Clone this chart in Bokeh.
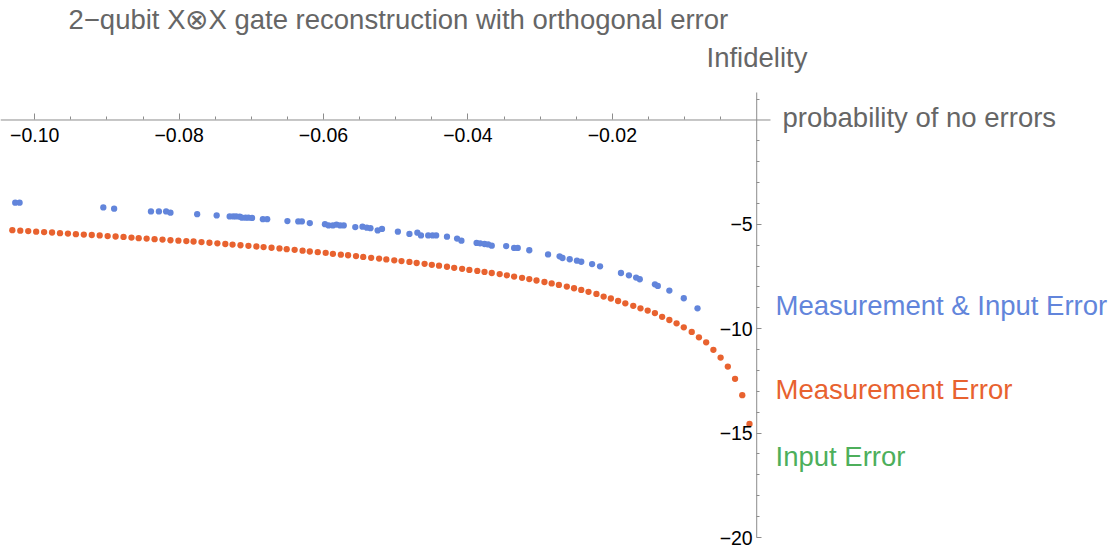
from bokeh.plotting import figure
from bokeh.models import (Range1d, LinearAxis, FixedTicker, CustomJSTickFormatter,
                          Label, ColumnDataSource)
from bokeh.embed import file_html
from bokeh.resources import INLINE

# --- data -------------------------------------------------------------------
# x: probability of no errors (log), y: infidelity (log)
meas_x = [-0.1031, -0.1020, -0.1009, -0.0998, -0.0987, -0.0976, -0.0965, -0.0954, -0.0943, -0.0932,
          -0.0921, -0.0910, -0.0899, -0.0888, -0.0877, -0.0866, -0.0856, -0.0845, -0.0834, -0.0823,
          -0.0812, -0.0801, -0.0790, -0.0780, -0.0769, -0.0758, -0.0747, -0.0736, -0.0726, -0.0715,
          -0.0704, -0.0693, -0.0683, -0.0672, -0.0661, -0.0651, -0.0640, -0.0629, -0.0619, -0.0608,
          -0.0597, -0.0587, -0.0576, -0.0566, -0.0555, -0.0545, -0.0534, -0.0523, -0.0513, -0.0502,
          -0.0492, -0.0481, -0.0471, -0.0460, -0.0450, -0.0440, -0.0429, -0.0419, -0.0408, -0.0398,
          -0.0387, -0.0377, -0.0367, -0.0356, -0.0346, -0.0336, -0.0325, -0.0315, -0.0305, -0.0294,
          -0.0284, -0.0274, -0.0263, -0.0253, -0.0243, -0.0233, -0.0222, -0.0212, -0.0202, -0.0192,
          -0.0182, -0.0171, -0.0161, -0.0151, -0.0141, -0.0131, -0.0121, -0.0111, -0.0101, -0.0090,
          -0.0080, -0.0070, -0.0060, -0.0050, -0.0040, -0.0030, -0.0020, -0.0010]
meas_y = [-5.28, -5.30, -5.32, -5.35, -5.37, -5.39, -5.42, -5.44, -5.47, -5.49,
          -5.51, -5.53, -5.56, -5.58, -5.60, -5.63, -5.66, -5.68, -5.71, -5.73,
          -5.76, -5.78, -5.80, -5.82, -5.85, -5.88, -5.91, -5.94, -5.97, -6.00,
          -6.03, -6.06, -6.09, -6.12, -6.15, -6.19, -6.22, -6.26, -6.30, -6.33,
          -6.37, -6.41, -6.45, -6.48, -6.52, -6.56, -6.60, -6.64, -6.68, -6.72,
          -6.76, -6.80, -6.85, -6.89, -6.94, -6.98, -7.03, -7.08, -7.13, -7.18,
          -7.23, -7.28, -7.33, -7.38, -7.44, -7.50, -7.56, -7.62, -7.69, -7.76,
          -7.83, -7.90, -7.98, -8.06, -8.14, -8.23, -8.33, -8.46, -8.55, -8.67,
          -8.78, -8.90, -9.02, -9.13, -9.25, -9.43, -9.58, -9.74, -9.93, -10.15,
          -10.41, -10.65, -11.01, -11.38, -11.81, -12.40, -13.18, -14.56]

both_x = [-0.1027, -0.1021, -0.0905, -0.0890, -0.0839, -0.0828, -0.0818, -0.0812, -0.0775, -0.0748,
          -0.0730, -0.0725, -0.0721, -0.0716, -0.0713, -0.0708, -0.0704, -0.0699, -0.0684, -0.0678,
          -0.0650, -0.0635, -0.0630, -0.0619, -0.0598, -0.0593, -0.0587, -0.0582, -0.0577, -0.0572,
          -0.0556, -0.0546, -0.0540, -0.0535, -0.0525, -0.0519, -0.0497, -0.0481, -0.0470, -0.0465,
          -0.0455, -0.0449, -0.0444, -0.0429, -0.0415, -0.0409, -0.0388, -0.0383, -0.0377, -0.0372,
          -0.0367, -0.0347, -0.0336, -0.0331, -0.0315, -0.0289, -0.0273, -0.0269, -0.0259, -0.0249,
          -0.0243, -0.0228, -0.0217, -0.0188, -0.0177, -0.0167, -0.0162, -0.0141, -0.0137, -0.0121,
          -0.0101, -0.0082]
both_y = [-3.96, -3.96, -4.19, -4.25, -4.38, -4.38, -4.38, -4.44, -4.51, -4.57,
          -4.62, -4.62, -4.62, -4.63, -4.68, -4.68, -4.68, -4.69, -4.75, -4.75,
          -4.84, -4.86, -4.86, -4.94, -4.99, -5.05, -5.05, -5.01, -5.05, -5.05,
          -5.13, -5.11, -5.16, -5.18, -5.29, -5.22, -5.35, -5.46, -5.40, -5.53,
          -5.53, -5.53, -5.53, -5.59, -5.68, -5.78, -5.89, -5.91, -5.94, -5.96,
          -6.02, -6.04, -6.13, -6.13, -6.24, -6.44, -6.53, -6.61, -6.67, -6.74,
          -6.79, -6.90, -7.01, -7.33, -7.44, -7.55, -7.63, -7.87, -7.95, -8.17,
          -8.54, -9.02]

x_major = [-0.10, -0.08, -0.06, -0.04, -0.02]
x_minor = [-0.095, -0.09, -0.085, -0.075, -0.07, -0.065, -0.055, -0.05, -0.045,
           -0.035, -0.03, -0.025, -0.015, -0.01, -0.005]
y_major = [-20, -15, -10, -5]
y_minor = [1, -1, -2, -3, -4, -6, -7, -8, -9, -11, -12, -13, -14, -16, -17, -18, -19]

title_text = "2\u2212qubit X\u2297X gate reconstruction with orthogonal error"
x_label = "probability of no errors"
y_label = "Infidelity"
series_names = ["Measurement & Input Error", "Measurement Error", "Input Error"]

# --- styling ------------------------------------------------------------------
BLUE = "#6285DB"
ORANGE = "#E8622F"
GREEN = "#4DAF5B"
AXIS = "#8c8c8c"
LABEL_GRAY = "#666666"
FONT = "Liberation Sans"

W, H = 1118, 549
# extent of the drawn axes (data units)
AX_X0, AX_X1 = -0.10474, 0.00191
AX_Y0, AX_Y1 = -20.0, 1.317
# pixel placement of that extent on the canvas
AX_L, AX_R, AX_T, AX_B = 0, 770, 92, 537
SX = (AX_R - AX_L) / (AX_X1 - AX_X0)       # px per x unit
SY = (AX_B - AX_T) / (AX_Y1 - AX_Y0)       # px per y unit
X_START = AX_X0 - AX_L / SX
X_END = AX_X0 + (W - AX_L) / SX
Y_END = AX_Y1 + AX_T / SY
Y_START = AX_Y0 - (H - AX_B) / SY

p = figure(width=W, height=H, output_backend="svg", toolbar_location=None,
           x_range=Range1d(X_START, X_END), y_range=Range1d(Y_START, Y_END),
           x_axis_location=None, y_axis_location=None,
           min_border=0, min_border_left=0, min_border_right=0,
           min_border_top=0, min_border_bottom=0)
p.outline_line_color = None
p.grid.visible = False
p.background_fill_color = "white"
p.border_fill_color = "white"


def to_data(px, py):
    """Canvas pixel position -> data coordinates (for text placement)."""
    return X_START + px / SX, Y_END - py / SY


# axis lines crossing at the origin
p.segment(x0=[AX_X0, 0], y0=[0, AX_Y0], x1=[AX_X1, 0], y1=[0, AX_Y1],
          line_color=AXIS, line_width=1)

minus_fmt = "return (tick < 0 ? '\u2212' : '') + Math.abs(tick).toFixed(%d);"

xaxis = LinearAxis(fixed_location=0,
                   ticker=FixedTicker(ticks=x_major, minor_ticks=x_minor),
                   formatter=CustomJSTickFormatter(code=minus_fmt % 2),
                   axis_line_color=None, major_tick_line_color=AXIS, minor_tick_line_color=AXIS,
                   major_tick_in=6, major_tick_out=0, minor_tick_in=3, minor_tick_out=0,
                   major_label_text_font=FONT, major_label_text_font_size="19.5px",
                   major_label_text_color="#000000", major_label_standoff=8)
p.add_layout(xaxis, "below")

yaxis = LinearAxis(fixed_location=0,
                   ticker=FixedTicker(ticks=y_major, minor_ticks=y_minor),
                   formatter=CustomJSTickFormatter(code=minus_fmt % 0),
                   axis_line_color=None, major_tick_line_color=AXIS, minor_tick_line_color=AXIS,
                   major_tick_in=5, major_tick_out=0, minor_tick_in=3, minor_tick_out=0,
                   major_label_text_font=FONT, major_label_text_font_size="19.5px",
                   major_label_text_color="#000000", major_label_standoff=4)
p.add_layout(yaxis, "left")

p.scatter(x="x", y="y", source=ColumnDataSource(dict(x=meas_x, y=meas_y)),
          size=6.3, fill_color=ORANGE, line_color=None)
p.scatter(x="x", y="y", source=ColumnDataSource(dict(x=both_x, y=both_y)),
          size=6.3, fill_color=BLUE, line_color=None)


def add_text(text, px, py, color, size="27.5px"):
    x, y = to_data(px, py)
    p.add_layout(Label(x=x, y=y, text=text, text_font=FONT, text_font_size=size,
                       text_color=color, text_align="left", text_baseline="alphabetic"))


add_text(title_text, 68, 19, LABEL_GRAY)
add_text(y_label, 706, 57, LABEL_GRAY)
add_text(x_label, 782, 117, LABEL_GRAY)
add_text(series_names[0], 775, 305, BLUE)
add_text(series_names[1], 775, 389, ORANGE)
add_text(series_names[2], 775, 456, GREEN)

open("out.html", "w").write(file_html(p, INLINE))
